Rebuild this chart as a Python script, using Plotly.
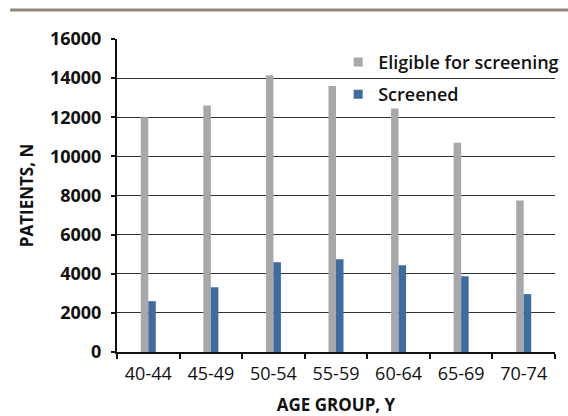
import plotly.graph_objects as go

# Patients per age group: eligible for screening vs. actually screened
age_groups = ["40-44", "45-49", "50-54", "55-59", "60-64", "65-69", "70-74"]
eligible = [12000, 12600, 14150, 13600, 12450, 10700, 7750]
screened = [2600, 3310, 4590, 4740, 4430, 3870, 2960]

y_ticks = [0, 2000, 4000, 6000, 8000, 10000, 12000, 14000, 16000]
y_tick_labels = ["0", "2000", "4000", "6000", "8000", "10000", "12000", "14000", "16000"]

GRAY = "#A7A8AC"
BLUE = "#3E6C9E"
FONT = "Open Sans"

fig = go.Figure()

fig.add_trace(go.Bar(x=age_groups, y=eligible, name="Eligible for screening",
                     marker=dict(color=GRAY, line=dict(width=0)), showlegend=False))
fig.add_trace(go.Bar(x=age_groups, y=screened, name="Screened",
                     marker=dict(color=BLUE, line=dict(width=0)), showlegend=False))

# Small square legend keys
fig.add_trace(go.Scatter(x=[None], y=[None], mode="markers", name="Eligible for screening",
                         marker=dict(symbol="square", size=9, color=GRAY),
                         legendgroup="a"))
fig.add_trace(go.Scatter(x=[None], y=[None], mode="markers", name="Screened",
                         marker=dict(symbol="square", size=9, color=BLUE),
                         legendgroup="b"))

fig.update_layout(
    width=568, height=416,
    margin=dict(l=117, r=13, t=39, b=64, autoexpand=False),
    paper_bgcolor="white", plot_bgcolor="white",
    barmode="group", bargap=0.76, bargroupgap=0,
    font=dict(family=FONT, color="#111111"),
    legend=dict(x=0.505, y=0.985, xanchor="left", yanchor="top",
                bgcolor="rgba(0,0,0,0)", font=dict(size=18, family=FONT, weight=600),
                tracegroupgap=6, itemwidth=30),
    xaxis=dict(
        type="category", automargin=False,
        tickson="boundaries", ticks="outside", ticklen=5, tickwidth=2, tickcolor="#111",
        showline=True, linecolor="#111", linewidth=2,
        tickfont=dict(size=18, family=FONT, weight=500),
        ticklabelstandoff=4,
        title=dict(text="AGE GROUP, Y", font=dict(size=17, family=FONT, weight="bold"), standoff=19),
        showgrid=False,
    ),
    yaxis=dict(
        automargin=False,
        range=[0, 16000], tickvals=y_ticks, ticktext=y_tick_labels,
        ticks="outside", ticklen=4, tickwidth=2, tickcolor="#111",
        showline=True, linecolor="#111", linewidth=2,
        showgrid=True, gridcolor="#333333", gridwidth=1,
        zeroline=False,
        tickfont=dict(size=18, family=FONT, weight=700),
        ticklabelstandoff=6,
        title=dict(text="PATIENTS, N", font=dict(size=17, family=FONT, weight="bold"), standoff=12),
    ),
    shapes=[dict(type="line", xref="paper", yref="paper",
                 x0=-0.244, x1=1.03, y0=1.0927, y1=1.0927,
                 line=dict(color="#8E8778", width=3))],
)

fig.write_html("out.html")
